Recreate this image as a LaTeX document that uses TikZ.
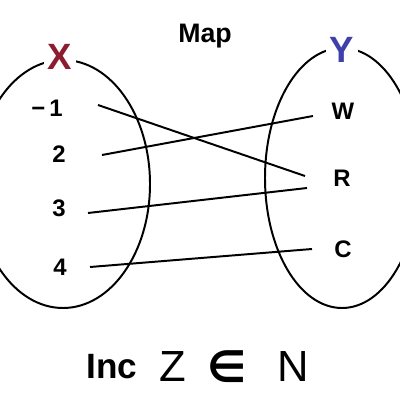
\documentclass[tikz,border=0pt]{standalone}
\usepackage{fontspec}
\setmainfont{Liberation Sans}
\newfontfamily\dejavu{DejaVu Sans}
\usepackage{tikz}
\usetikzlibrary{positioning}
\definecolor{xred}{RGB}{140,28,48}
\definecolor{yblue}{RGB}{64,64,170}
\tikzstyle{elem}    = [font=\fontsize{17}{20}\selectfont\bfseries, inner sep=1pt]
\tikzstyle{setname} = [font=\fontsize{26}{30}\selectfont\bfseries, fill=white, inner sep=3pt]
\tikzstyle{setline} = [line width=1.4pt]
\tikzstyle{maplink} = [line width=1.4pt]
\tikzstyle{bigsym}  = [font=\fontsize{31}{34}\selectfont, inner sep=1pt]

\begin{document}
\begin{tikzpicture}[x=0.025cm, y=-0.025cm]
\useasboundingbox (0,0) rectangle (400,400);
\clip (0,0) rectangle (400,400);

% the two sets
\draw [setline] (63,184) ellipse [x radius=87, y radius=124];
\draw [setline] (342,178) ellipse [x radius=77, y radius=130];
\node (X) [setname, text=xred] at (60,57) {X};
\node (Y) [setname, text=yblue] at (342,50) {Y};
\node (title) [elem, font=\fontsize{19}{22}\selectfont\bfseries] at (205,36) {Map};

% elements
\node (m1) [elem] at (47,108) {−\,1};
\node (two) [elem] at (59,154) {2};
\node (three) [elem] at (59,208) {3};
\node (four) [elem] at (60,267) {4};
\node (W) [elem] at (343,111) {W};
\node (R) [elem] at (342,178) {R};
\node (C) [elem] at (343,249) {C};

% line ends
\coordinate (m1e) at (98,105);
\coordinate (twoe) at (102,155);
\coordinate (threee) at (88,213);
\coordinate (foure) at (90,267);
\coordinate (We) at (313,116);
\coordinate (Ra) at (305,176);
\coordinate (Rb) at (307,188);
\coordinate (Ce) at (312,249);

\draw [maplink] (m1e) -- (Ra);
\draw [maplink] (twoe) -- (We);
\draw [maplink] (threee) -- (Rb);
\draw [maplink] (foure) -- (Ce);

% bottom line
\node (inc) [elem, font=\fontsize{25}{28}\selectfont\bfseries] at (112,367) {Inc};
\node (Z) [bigsym] at (173,367) {Z};
\node (in) [bigsym, font=\fontsize{31}{34}\selectfont\dejavu\bfseries] at (227,367) {∈};
\node (N) [bigsym] at (293,367) {N};
\end{tikzpicture}
\end{document}
